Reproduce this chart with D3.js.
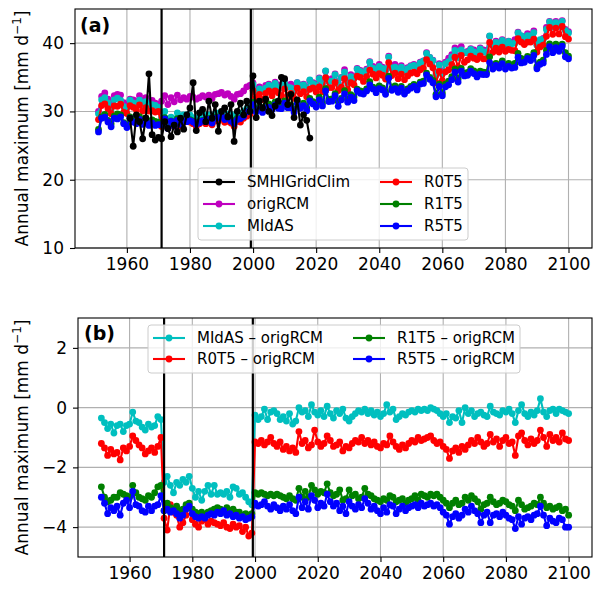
<!DOCTYPE html>
<html>
<head>
<meta charset="utf-8">
<script src="https://d3js.org/d3.v7.min.js"></script>
<style>
  body { margin: 0; background: #fff; font-family: 'DejaVu Sans', sans-serif; }
</style>
</head>
<body>
<svg id="chart" width="600" height="592"></svg>
<script>
// ---- data ----
var years = d3.range(1951, 2101);
var obsYears = d3.range(1961, 2019);
var splitYears = [1971, 1999.3];
var xTicks = [1960, 1980, 2000, 2020, 2040, 2060, 2080, 2100];
var yTicksA = [10, 20, 30, 40];
var yTicksB = [-4, -2, 0, 2];

var smhiGridClim = [
  29.0, 24.9, 29.5, 28.5, 26.0, 29.0, 35.5, 26.6, 25.8, 26.2,
  26.0, 28.5, 27.5, 26.3, 28.0, 27.0, 29.0, 27.4, 29.5, 30.5,
  34.2, 27.2, 29.8, 30.3, 28.5, 31.5, 29.0, 31.0, 27.1, 30.0,
  30.5, 29.2, 31.0, 25.6, 30.0, 31.2, 29.5, 31.5, 30.0, 35.2,
  29.1, 31.5, 30.5, 31.8, 30.0, 29.4, 30.8, 31.5, 35.0, 34.8,
  31.0, 32.5, 29.1, 31.7, 28.0, 29.5, 28.7, 26.1
];

var origRCM = [
  30.0, 32.2, 32.7, 31.8, 31.2, 32.3, 32.5, 32.4, 31.3, 31.0,
  31.8, 31.7, 31.5, 32.3, 31.6, 32.0, 31.4, 31.6, 31.2, 31.0,
  31.5, 32.3, 31.0, 32.0, 31.4, 32.4, 31.7, 32.0, 31.8, 32.2,
  32.1, 31.8, 32.0, 32.3, 32.1, 32.4, 31.9, 32.5, 32.6, 32.8,
  32.4, 32.6, 32.2, 31.8, 32.5, 32.6, 33.0, 33.6, 33.8,
  34.2, 33.2, 33.6, 33.0, 33.8, 34.0, 33.5, 34.3, 33.9, 33.7,
  34.6, 33.8, 34.0, 33.4, 34.2, 33.8, 34.0, 33.5, 34.5, 34.2,
  34.0, 34.9, 34.1, 35.9, 34.6, 34.8, 35.5, 34.2, 35.0, 36.1,
  34.5, 35.4, 35.0, 36.3, 36.0, 35.6, 36.2, 37.3, 36.6, 36.2,
  36.9, 36.5, 36.0, 38.1, 36.4, 36.9, 36.2, 36.7, 36.0, 36.4,
  36.7, 36.9, 36.5, 37.2, 37.4, 38.6, 37.9, 37.5, 35.4, 37.0,
  35.8, 37.2, 37.8, 38.3, 39.3, 38.0, 39.5, 38.6, 38.8, 39.2,
  39.0, 38.6, 39.3, 39.0, 38.9, 41.0, 39.8, 40.3, 40.0, 40.5,
  39.8, 40.3, 40.1, 40.5, 41.6, 41.0, 40.9, 41.4, 41.2, 41.8,
  39.8, 40.2, 40.7, 42.3, 43.2, 42.4, 43.2, 42.5, 43.3, 42.0,
  41.7
];

// differences to origRCM, as drawn in panel (b)
var midasDiff = [
  -0.35, -0.5, -0.7, -0.55, -0.85, -0.6, -0.55, -0.8, -0.6, -0.55,
  -0.15, -0.45, -0.5, -0.65, -0.75, -0.55, -0.65, -0.6, -0.3, -0.4,
  -2.5, -2.3, -2.6, -2.85, -2.5, -2.6, -2.4, -2.5, -2.3, -2.7,
  -3.0, -2.8, -3.1, -2.8, -2.6, -2.9, -2.6, -2.9, -2.85, -2.9,
  -2.8, -3.0, -2.65, -2.7, -2.9, -2.85, -3.0, -3.15, -3.25,
  -0.25, -0.4, -0.3, -0.05, -0.4, -0.15, -0.1, -0.2, -0.4, -0.3,
  -0.45, -0.2, -0.55, -0.45, 0.0, -0.15, -0.1, -0.3, 0.1, -0.15,
  -0.25, -0.1, -0.3, 0.05, -0.2, -0.35, -0.1, -0.2, -0.05, -0.35,
  -0.45, -0.3, -0.2, -0.1, -0.15, -0.05, -0.2, -0.1, -0.25, -0.15,
  -0.3, -0.2, 0.1, -0.15, -0.05, -0.4, -0.3, -0.2, -0.25, -0.15,
  -0.1, -0.15, -0.05, -0.1, -0.05, -0.1, 0.0, -0.05, -0.1, -0.2,
  -0.3, -0.2, -0.5, -0.3, -0.35, -0.1, -0.5, 0.0, -0.2, -0.1,
  -0.3, -0.2, -0.15, -0.25, -0.3, 0.05, -0.15, -0.2, -0.25, -0.1,
  -0.15, -0.05, -0.2, -0.5, -0.1, 0.1, -0.2, -0.3, -0.15, -0.25,
  -0.1, 0.3, -0.15, -0.3, -0.1, -0.05, -0.2, -0.05, -0.1, -0.15,
  -0.2
];

var r0t5Diff = [
  -1.2, -1.35, -1.6, -1.4, -1.55, -1.5, -1.75, -1.35, -1.45, -1.3,
  -0.95, -1.1, -1.25, -1.35, -1.55, -1.45, -1.35, -1.5, -1.3, -1.0,
  -3.7, -4.1, -3.25, -3.5, -3.6, -4.0, -3.85, -3.6, -3.3, -3.75,
  -3.9, -4.0, -3.8, -3.75, -3.9, -3.8, -3.85, -3.9, -3.95, -3.85,
  -4.0, -4.05, -3.9, -4.0, -3.95, -4.15, -4.0, -4.3, -4.2,
  -1.15, -1.2, -1.1, -1.25, -1.15, -1.0, -1.2, -1.3, -1.15, -1.4,
  -1.3, -1.45, -1.35, -1.5, -0.8, -1.2, -1.1, -1.35, -1.25, -0.75,
  -1.15, -1.3, -1.2, -0.95, -1.1, -1.3, -1.25, -1.15, -1.45, -1.3,
  -1.35, -1.2, -1.1, -1.15, -1.0, -1.2, -1.1, -1.25, -1.15, -1.3,
  -1.35, -1.2, -1.25, -0.95, -1.15, -1.3, -1.4, -1.25, -1.35, -1.2,
  -1.1, -1.15, -1.0, -1.1, -1.05, -1.0, -0.95, -1.1, -1.2, -1.15,
  -1.3, -1.4, -1.7, -1.45, -1.35, -1.5, -1.3, -1.4, -1.25, -1.1,
  -1.2, -1.0, -1.15, -1.3, -1.2, -0.9, -1.15, -1.05, -1.3, -1.1,
  -1.0, -1.2, -1.15, -1.6, -0.95, -0.85, -1.1, -1.25, -1.05, -1.2,
  -1.1, -0.75, -1.0, -1.3, -0.9, -1.1, -1.0, -1.15, -0.85, -1.05,
  -1.1
];

var r1t5Diff = [
  -2.65, -3.0, -3.15, -3.1, -3.0, -3.0, -2.85, -2.9, -2.95, -3.0,
  -2.6, -2.85, -3.0, -3.05, -3.1, -2.95, -3.0, -2.85, -2.65, -2.6,
  -3.45, -3.2, -3.35, -3.4, -3.3, -3.45, -3.4, -3.25, -3.2, -3.4,
  -3.5, -3.55, -3.5, -3.6, -3.5, -3.45, -3.4, -3.35, -3.4, -3.5,
  -3.35, -3.45, -3.4, -3.5, -3.5, -3.6, -3.55, -3.6, -3.55,
  -2.85, -2.9, -2.85, -2.9, -2.95, -2.9, -2.95, -2.9, -2.95, -3.0,
  -3.05, -2.95, -3.05, -3.1, -2.7, -3.0, -2.8, -3.0, -2.6, -2.75,
  -2.9, -2.8, -2.85, -2.55, -2.85, -2.95, -2.9, -2.75, -3.1, -3.05,
  -2.75, -2.95, -2.9, -3.05, -3.0, -2.7, -2.9, -2.95, -3.05, -3.1,
  -3.15, -3.05, -3.1, -2.95, -3.0, -3.15, -3.1, -3.05, -3.2, -3.1,
  -3.05, -2.95, -3.1, -2.9, -2.95, -3.0, -2.9, -2.95, -2.9, -3.0,
  -3.1, -3.2, -3.35, -3.2, -3.1, -3.25, -3.2, -3.0, -3.1, -2.95,
  -3.05, -3.15, -3.4, -3.25, -3.2, -3.0, -3.15, -3.25, -3.2, -3.1,
  -3.15, -3.25, -3.3, -3.45, -3.1, -3.25, -3.4, -3.35, -3.3, -3.2,
  -3.25, -3.0, -3.2, -3.35, -3.3, -3.4, -3.35, -3.3, -3.45, -3.4,
  -3.6
];

var r5t5Diff = [
  -3.0, -3.2, -3.55, -3.35, -3.45, -3.3, -3.6, -3.2, -3.1, -3.35,
  -2.8, -3.25, -3.3, -3.45, -3.5, -3.3, -3.45, -3.3, -3.25, -2.95,
  -3.45, -3.4, -3.5, -3.45, -3.55, -3.7, -3.6, -3.4, -3.3, -3.55,
  -3.65, -3.7, -3.65, -3.7, -3.6, -3.55, -3.6, -3.5, -3.55, -3.45,
  -3.6, -3.55, -3.65, -3.6, -3.7, -3.65, -3.75, -3.7, -3.65,
  -3.2, -3.3, -3.25, -3.15, -3.3, -3.4, -3.25, -3.35, -3.45, -3.3,
  -3.4, -3.25, -3.45, -3.55, -3.0, -3.35, -3.15, -3.4, -2.95, -3.1,
  -3.35, -3.2, -3.3, -2.9, -3.15, -3.3, -3.2, -3.45, -3.3, -3.55,
  -3.15, -3.3, -3.4, -3.25, -3.35, -3.05, -3.2, -3.4, -3.3, -3.45,
  -3.55, -3.35, -3.5, -3.25, -3.3, -3.55, -3.4, -3.3, -3.45, -3.35,
  -3.3, -3.25, -3.35, -3.2, -3.3, -3.25, -3.2, -3.3, -3.25, -3.35,
  -3.5, -3.6, -3.9, -3.65, -3.55, -3.7, -3.6, -3.4, -3.5, -3.3,
  -3.45, -3.55, -3.85, -3.6, -3.5, -3.85, -3.6, -3.55, -3.65, -3.5,
  -3.6, -3.7, -3.75, -4.05, -3.65, -3.9, -3.7, -3.65, -3.75, -3.6,
  -3.55, -3.3, -3.6, -3.95, -3.7, -3.8, -3.85, -3.7, -3.75, -4.0,
  -4.0
];

// panel (a) runs are origRCM plus the differences
function addTo(base, diff) { return base.map(function (v, i) { return v + diff[i]; }); }
var midas = addTo(origRCM, midasDiff);
var r0t5 = addTo(origRCM, r0t5Diff);
var r1t5 = addTo(origRCM, r1t5Diff);
var r5t5 = addTo(origRCM, r5t5Diff);

// ---- drawing ----
var canvas = d3.select("#chart");
var font = "'DejaVu Sans', sans-serif";
var span = years[years.length - 1] - years[0];
var xDomain = [years[0] - 0.05 * span, years[years.length - 1] + 0.05 * span];

function makePanel(box, yDomain, yTicks, tag) {
    var x = d3.scaleLinear().domain(xDomain).range([box.left, box.right]);
    var y = d3.scaleLinear().domain(yDomain).range([box.bottom, box.top]);
    var g = canvas.append("g");

    canvas.append("clipPath").attr("id", "clip-" + tag)
        .append("rect")
        .attr("x", box.left).attr("y", box.top)
        .attr("width", box.right - box.left).attr("height", box.bottom - box.top);

    // grid
    g.append("g").selectAll("line").data(xTicks).enter().append("line")
        .attr("x1", function (d) { return x(d); }).attr("x2", function (d) { return x(d); })
        .attr("y1", box.top).attr("y2", box.bottom)
        .attr("stroke", "#b0b0b0").attr("stroke-width", 1.1);
    g.append("g").selectAll("line").data(yTicks).enter().append("line")
        .attr("x1", box.left).attr("x2", box.right)
        .attr("y1", function (d) { return y(d); }).attr("y2", function (d) { return y(d); })
        .attr("stroke", "#b0b0b0").attr("stroke-width", 1.1);

    var xAxis = g.append("g")
        .attr("transform", "translate(0," + box.bottom + ")")
        .call(d3.axisBottom(x).tickValues(xTicks).tickSize(5).tickPadding(5).tickFormat(d3.format("d")));
    var yAxis = g.append("g")
        .attr("transform", "translate(" + box.left + ",0)")
        .call(d3.axisLeft(y).tickValues(yTicks).tickSize(5).tickPadding(6));
    [xAxis, yAxis].forEach(function (a) {
        a.select(".domain").remove();
        a.selectAll("line").attr("stroke", "#000").attr("stroke-width", 1.1);
        a.selectAll("text")
            .style("font-family", font)
            .style("font-size", "17px")
            .attr("fill", "#000");
    });

    var plot = g.append("g").attr("clip-path", "url(#clip-" + tag + ")");
    return { x: x, y: y, g: g, plot: plot, box: box };
}

function drawSeries(p, xs, ys, color) {
    var pts = xs.map(function (d, i) { return [d, ys[i]]; });
    p.plot.append("path")
        .datum(pts)
        .attr("fill", "none")
        .attr("stroke", color)
        .attr("stroke-width", 2.1)
        .attr("stroke-linejoin", "round")
        .attr("d", d3.line()
            .x(function (d) { return p.x(d[0]); })
            .y(function (d) { return p.y(d[1]); }));
    p.plot.append("g").selectAll("circle").data(pts).enter().append("circle")
        .attr("cx", function (d) { return p.x(d[0]); })
        .attr("cy", function (d) { return p.y(d[1]); })
        .attr("r", 3.4)
        .attr("fill", color);
}

function drawSplits(p) {
    p.plot.append("g").selectAll("line").data(splitYears).enter().append("line")
        .attr("x1", function (d) { return p.x(d); }).attr("x2", function (d) { return p.x(d); })
        .attr("y1", p.box.top).attr("y2", p.box.bottom)
        .attr("stroke", "#000").attr("stroke-width", 2.2);
}

function drawFrame(p, tag, tx, ty) {
    var b = p.box;
    p.g.append("rect")
        .attr("x", b.left).attr("y", b.top)
        .attr("width", b.right - b.left).attr("height", b.bottom - b.top)
        .attr("fill", "none").attr("stroke", "#000").attr("stroke-width", 1.1);
    p.g.append("text")
        .attr("x", tx).attr("y", ty)
        .style("font-family", font).style("font-size", "19px").style("font-weight", "bold")
        .text(tag);
    var cy = (b.top + b.bottom) / 2;
    var lab = p.g.append("text")
        .attr("transform", "translate(28," + cy + ") rotate(-90)")
        .attr("text-anchor", "middle")
        .style("font-family", font).style("font-size", "17px");
    lab.append("tspan").text("Annual maximum [mm d");
    lab.append("tspan").attr("dy", -7).style("font-size", "12px").text("\u22121");
    lab.append("tspan").attr("dy", 7).text("]");
}

function drawLegend(p, box, items, colX, rowY) {
    var lg = p.g.append("g").attr("transform", "translate(" + box.x + "," + box.y + ")");
    lg.append("rect")
        .attr("width", box.w).attr("height", box.h)
        .attr("rx", 3).attr("ry", 3)
        .attr("fill", "#fff").attr("fill-opacity", 0.8)
        .attr("stroke", "#cccccc").attr("stroke-width", 1);
    items.forEach(function (it) {
        var hx = colX[it.col], hy = rowY[it.row];
        lg.append("line")
            .attr("x1", hx).attr("x2", hx + 32).attr("y1", hy).attr("y2", hy)
            .attr("stroke", it.color).attr("stroke-width", 2.1);
        lg.append("circle").attr("cx", hx + 16).attr("cy", hy).attr("r", 3.4).attr("fill", it.color);
        lg.append("text")
            .attr("x", hx + 44).attr("y", hy)
            .attr("dy", "0.36em")
            .style("font-family", font).style("font-size", "15px")
            .text(it.label);
    });
}

// panel (a)
var pa = makePanel({ left: 75, right: 592, top: 9, bottom: 248 }, [10, 45], yTicksA, "a");
drawSeries(pa, years, origRCM, "#bf00bf");
drawSeries(pa, years, midas, "#00bfbf");
drawSeries(pa, years, r0t5, "#ff0000");
drawSeries(pa, years, r1t5, "#008000");
drawSeries(pa, years, r5t5, "#0000ff");
drawSeries(pa, obsYears, smhiGridClim, "#000000");
drawSplits(pa);
drawFrame(pa, "(a)", 80, 32);
drawLegend(pa, { x: 198, y: 168, w: 270, h: 72 }, [
    { label: "SMHIGridClim", color: "#000000", col: 0, row: 0 },
    { label: "origRCM", color: "#bf00bf", col: 0, row: 1 },
    { label: "MIdAS", color: "#00bfbf", col: 0, row: 2 },
    { label: "R0T5", color: "#ff0000", col: 1, row: 0 },
    { label: "R1T5", color: "#008000", col: 1, row: 1 },
    { label: "R5T5", color: "#0000ff", col: 1, row: 2 }
], [5, 182], [14, 36, 58]);

// panel (b)
var pb = makePanel({ left: 78, right: 592, top: 318, bottom: 557 }, [-5, 3], yTicksB, "b");
drawSeries(pb, years, midasDiff, "#00bfbf");
drawSeries(pb, years, r0t5Diff, "#ff0000");
drawSeries(pb, years, r1t5Diff, "#008000");
drawSeries(pb, years, r5t5Diff, "#0000ff");
drawSplits(pb);
drawFrame(pb, "(b)", 84, 340);
drawLegend(pb, { x: 148, y: 325, w: 372, h: 48 }, [
    { label: "MIdAS \u2013 origRCM", color: "#00bfbf", col: 0, row: 0 },
    { label: "R0T5 \u2013 origRCM", color: "#ff0000", col: 0, row: 1 },
    { label: "R1T5 \u2013 origRCM", color: "#008000", col: 1, row: 0 },
    { label: "R5T5 \u2013 origRCM", color: "#0000ff", col: 1, row: 1 }
], [5, 205], [13, 34]);
</script>
</body>
</html>
